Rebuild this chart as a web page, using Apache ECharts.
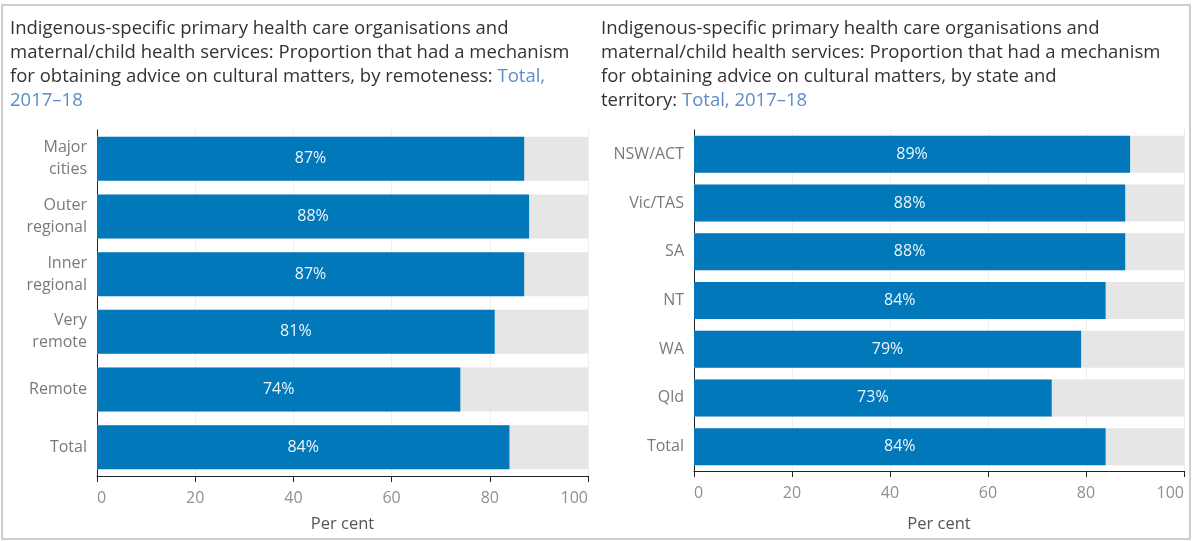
<!DOCTYPE html>
<html>
<head>
<meta charset="utf-8">
<style>
  html, body { margin: 0; padding: 0; background: #fff; }
  #chart { width: 1192px; height: 541px; }
</style>
<script src="https://cdn.jsdelivr.net/npm/echarts@6/dist/echarts.min.js"></script>
</head>
<body>
<div id="chart"></div>
<script>
// Proportion of services with a mechanism for obtaining advice on cultural matters, 2017–18
const remotenessCategories = ['Major\ncities', 'Outer\nregional', 'Inner\nregional', 'Very\nremote', 'Remote', 'Total'];
const remotenessValues = [87, 88, 87, 81, 74, 84];

const stateCategories = ['NSW/ACT', 'Vic/TAS', 'SA', 'NT', 'WA', 'Qld', 'Total'];
const stateValues = [89, 88, 88, 84, 79, 73, 84];

const xTicks = [0, 20, 40, 60, 80, 100];
const axisName = 'Per cent';

const FONT = '"Open Sans", "Noto Sans", sans-serif';
const BLUE = '#0078b9';
const TRACK = '#e6e6e6';

const titleRich = {
  a: { fontFamily: FONT, fontSize: 18.5, fontWeight: 'normal', color: '#333', lineHeight: 24 },
  b: { fontFamily: FONT, fontSize: 18.5, fontWeight: 'normal', color: '#5b8ec9', lineHeight: 24 }
};

function xAxis(gridIndex, nameGap) {
  return {
    gridIndex: gridIndex,
    type: 'value',
    min: xTicks[0],
    max: xTicks[xTicks.length - 1],
    interval: xTicks[1] - xTicks[0],
    axisLine: { show: true, lineStyle: { color: '#222', width: 1 } },
    axisTick: { show: true, length: 6, lineStyle: { color: '#222', width: 1 } },
    axisLabel: {
      color: '#909090', fontFamily: FONT, fontSize: 16, margin: 14,
      alignMinLabel: 'left', alignMaxLabel: 'right'
    },
    splitLine: { show: true, lineStyle: { color: '#efefef', width: 1 } },
    name: axisName,
    nameLocation: 'middle',
    nameGap: nameGap,
    nameTextStyle: { color: '#555', fontFamily: FONT, fontSize: 16.5 }
  };
}

function yAxis(gridIndex, cats, lh) {
  return {
    gridIndex: gridIndex,
    type: 'category',
    inverse: true,
    data: cats,
    axisLine: { show: true, lineStyle: { color: '#222', width: 1 } },
    axisTick: { show: false },
    axisLabel: { color: '#7a7a7a', fontFamily: FONT, fontSize: 16, margin: 10, lineHeight: lh, align: 'right' },
    splitLine: { show: false }
  };
}

function barSeries(idx, values, width) {
  return {
    type: 'bar',
    xAxisIndex: idx,
    yAxisIndex: idx,
    data: values,
    barWidth: width,
    showBackground: true,
    backgroundStyle: { color: TRACK },
    itemStyle: { color: BLUE },
    label: {
      show: true,
      position: 'inside',
      formatter: p => p.value + '%',
      color: '#eef4fa',
      fontFamily: FONT,
      fontSize: 16
    },
    silent: true
  };
}

const chart = echarts.init(document.getElementById('chart'), null, { renderer: 'canvas' });

chart.setOption({
  animation: false,
  backgroundColor: '#fff',
  title: [
    {
      left: 10, top: 17, padding: 0,
      text: '{a|Indigenous-specific primary health care organisations and}\n' +
            '{a|maternal/child health services: Proportion that had a mechanism}\n' +
            '{a|for obtaining advice on cultural matters, by remoteness: }{b|Total,}\n' +
            '{b|2017–18}',
      textStyle: { rich: titleRich }
    },
    {
      left: 601, top: 17, padding: 0,
      text: '{a|Indigenous-specific primary health care organisations and}\n' +
            '{a|maternal/child health services: Proportion that had a mechanism}\n' +
            '{a|for obtaining advice on cultural matters, by state and}\n' +
            '{a|territory: }{b|Total, 2017–18}',
      textStyle: { rich: titleRich }
    }
  ],
  grid: [
    { left: 97, top: 130, width: 491, height: 346, outerBoundsMode: 'none' },
    { left: 694, top: 130, width: 490, height: 341, outerBoundsMode: 'none' }
  ],
  xAxis: [xAxis(0, 40), xAxis(1, 45)],
  yAxis: [yAxis(0, remotenessCategories, 22), yAxis(1, stateCategories, 20)],
  series: [barSeries(0, remotenessValues, 44), barSeries(1, stateValues, 37)],
  graphic: [
    {
      type: 'rect',
      shape: { x: 2, y: 5, width: 1188, height: 534 },
      style: { fill: 'none', stroke: '#cfcfcf', lineWidth: 2 },
      silent: true,
      z: 100
    }
  ]
});
</script>
</body>
</html>
